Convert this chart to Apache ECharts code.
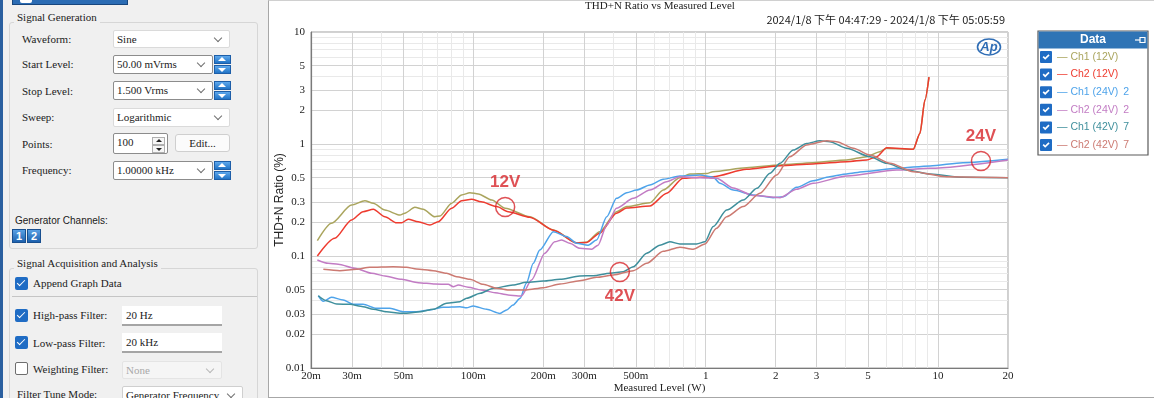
<!DOCTYPE html>
<html>
<head>
<meta charset="utf-8">
<script src="https://cdn.jsdelivr.net/npm/echarts@6/dist/echarts.min.js"></script>
<style>
body{margin:0;width:1154px;height:398px;overflow:hidden;background:#f0f0f0;position:relative;font-family:"Liberation Serif",serif;font-size:11px;color:#1b1b1b}
.a{position:absolute}
.lb{position:absolute;left:22px;line-height:14px;white-space:nowrap}
.grp{position:absolute;left:9px;width:249px;border:1px solid #d6d6d6;border-radius:3px;box-sizing:border-box}
.gt{position:absolute;left:14px;padding:0 3px;background:#f0f0f0;line-height:14px;white-space:nowrap}
.box{position:absolute;left:113px;background:#fff;border:1px solid #dadada;border-radius:2px;box-sizing:border-box;padding-left:3px;white-space:nowrap}
.dk{border-color:#8c8c8c}
.chev{position:absolute;right:8px;top:4px;width:5px;height:5px;border-right:1px solid #707070;border-bottom:1px solid #707070;transform:rotate(45deg)}
.sp{position:absolute;left:214px;width:17px;height:9px;background:linear-gradient(#5ea8ec,#2174c6);border:1px solid #1d5ea8;box-sizing:border-box}
.sp.u:after{content:'';position:absolute;left:3px;top:1px;border-left:4px solid transparent;border-right:4px solid transparent;border-bottom:4px solid #fff}
.sp.d:after{content:'';position:absolute;left:3px;top:2px;border-left:4px solid transparent;border-right:4px solid transparent;border-top:4px solid #fff}
.ps{position:absolute;left:152px;width:13px;height:8px;background:#f6f6f6;border:1px solid #b0b0b0;box-sizing:border-box}
.ps.u:after{content:'';position:absolute;left:3px;top:1px;border-left:3px solid transparent;border-right:3px solid transparent;border-bottom:3px solid #222}
.ps.d:after{content:'';position:absolute;left:3px;top:2px;border-left:3px solid transparent;border-right:3px solid transparent;border-top:3px solid #222}
.cb{position:absolute;top:229px;width:14px;height:14px;background:linear-gradient(#58a0e4,#1d61ae);border:1px solid #184f8f;box-sizing:border-box;color:#fff;font:bold 11px "Liberation Sans",sans-serif;text-align:center;line-height:12px}
.ck{position:absolute;left:15px;width:13px;height:13px;background:#1f6cc4;border-radius:2px}
.ck:after{content:'';position:absolute;left:4px;top:1px;width:3px;height:7px;border-right:1.5px solid #fff;border-bottom:1.5px solid #fff;transform:rotate(45deg)}
.ck0{position:absolute;left:15px;width:13px;height:13px;background:#fff;border:1px solid #6e6e6e;border-radius:2px;box-sizing:border-box}
.tb{position:absolute;left:122px;width:100px;background:#fff;border-bottom:2px solid #a5a5a5;box-sizing:border-box;padding-left:4px;line-height:18px}
#wrap{position:absolute;left:268px;top:0;width:886px;height:398px;background:#fff;border-left:1px solid #a7a7a7;border-top:1px solid #d0d0d0;border-bottom:1px solid #a7a7a7;box-sizing:border-box}
#main{position:absolute;left:0;top:0;width:885px;height:396px}
</style>
</head>
<body>
<div class="a" style="left:0;top:0;width:3px;height:398px;background:#2a5f9f"></div>
<div class="a" style="left:12px;top:-2px;width:116px;height:7px;background:#2b6cb4;border:1px solid #17467e;box-sizing:border-box"></div>
<div class="a" style="left:20px;top:0;width:12px;height:3px;background:#fff;border-radius:0 0 2px 2px"></div>

<div class="grp" style="top:22px;height:227px"></div>
<div class="gt" style="top:10px">Signal Generation</div>
<div class="lb" style="top:32px">Waveform:</div>
<div class="box" style="top:30px;width:117px;height:18px;line-height:16px">Sine<span class="chev"></span></div>
<div class="lb" style="top:57px">Start Level:</div>
<div class="box dk" style="top:55px;width:100px;height:19px;line-height:17px">50.00 mVrms<span class="chev"></span></div>
<div class="sp u" style="top:55px"></div><div class="sp d" style="top:65px"></div>
<div class="lb" style="top:84px">Stop Level:</div>
<div class="box dk" style="top:81px;width:100px;height:19px;line-height:17px">1.500 Vrms<span class="chev"></span></div>
<div class="sp u" style="top:81px"></div><div class="sp d" style="top:91px"></div>
<div class="lb" style="top:110px">Sweep:</div>
<div class="box" style="top:108px;width:117px;height:19px;line-height:17px">Logarithmic<span class="chev"></span></div>
<div class="lb" style="top:137px">Points:</div>
<div class="box dk" style="top:133px;width:55px;height:21px;line-height:17px">100</div>
<div class="ps u" style="top:137px"></div><div class="ps d" style="top:145px"></div>
<div class="a" style="left:175px;top:134px;width:55px;height:18px;border:1px solid #cfcfcf;border-radius:3px;background:#fbfbfb;box-sizing:border-box;text-align:center;line-height:16px">Edit...</div>
<div class="lb" style="top:163px">Frequency:</div>
<div class="box dk" style="top:161px;width:100px;height:19px;line-height:17px">1.00000 kHz<span class="chev"></span></div>
<div class="sp u" style="top:161px"></div><div class="sp d" style="top:171px"></div>
<div class="a" style="left:15px;top:214px;font:10px 'Liberation Sans',sans-serif;line-height:14px">Generator Channels:</div>
<div class="cb" style="left:12px">1</div><div class="cb" style="left:27px">2</div>

<div class="grp" style="top:268px;height:200px"></div>
<div class="gt" style="top:256px">Signal Acquisition and Analysis</div>
<div class="ck" style="top:277px"></div>
<div class="lb" style="left:33px;top:276px">Append Graph Data</div>
<div class="a" style="left:12px;top:296px;width:245px;height:1px;background:#c5c5c5"></div>
<div class="ck" style="top:309px"></div>
<div class="lb" style="left:33px;top:308px">High-pass Filter:</div>
<div class="tb" style="top:306px;height:20px">20 Hz</div>
<div class="ck" style="top:336px"></div>
<div class="lb" style="left:33px;top:336px">Low-pass Filter:</div>
<div class="tb" style="top:333px;height:20px">20 kHz</div>
<div class="ck0" style="top:362px"></div>
<div class="lb" style="left:33px;top:362px">Weighting Filter:</div>
<div class="box" style="left:122px;top:361px;width:100px;height:18px;line-height:16px;background:#f5f5f5;border-color:#e4e4e4;color:#a8a8a8">None<span class="chev" style="border-color:#b8b8b8"></span></div>
<div class="lb" style="left:17px;top:387px">Filter Tune Mode:</div>
<div class="box" style="left:122px;top:386px;width:121px;height:18px;line-height:16px;border-color:#cfcfcf">Generator Frequency<span class="chev"></span></div>

<div id="wrap"><div id="main"></div></div>

<script>
// THD+N ratio (%) against measured level (W)
var ch1_12V = [[0.0213,0.137],[0.0245,0.196],[0.0299,0.285],[0.0341,0.312],[0.0371,0.296],[0.0416,0.257],[0.0483,0.232],[0.0507,0.241],[0.056,0.272],[0.0608,0.261],[0.0683,0.224],[0.0718,0.228],[0.0806,0.296],[0.089,0.351],[0.0966,0.367],[0.105,0.358],[0.12,0.316],[0.137,0.267],[0.175,0.224],[0.221,0.171],[0.278,0.131],[0.307,0.133],[0.35,0.165],[0.413,0.249],[0.457,0.276],[0.575,0.299],[0.656,0.388],[0.774,0.5],[0.855,0.54],[1.01,0.545],[1.074,0.566],[1.5,0.614],[2.09,0.65],[2.89,0.681],[4.04,0.72],[4.93,0.77],[5.62,0.854],[6.01,0.916],[7.82,0.897],[8.36,1.25],[8.78,2.47],[9.14,3.96]];
var ch2_12V = [[0.0213,0.1],[0.0253,0.144],[0.0299,0.21],[0.0335,0.249],[0.0371,0.261],[0.0416,0.224],[0.0467,0.198],[0.0491,0.198],[0.0524,0.213],[0.0579,0.202],[0.065,0.189],[0.0705,0.202],[0.0806,0.267],[0.089,0.312],[0.0982,0.321],[0.108,0.305],[0.126,0.276],[0.141,0.249],[0.175,0.222],[0.221,0.17],[0.278,0.131],[0.307,0.132],[0.35,0.16],[0.413,0.241],[0.457,0.268],[0.575,0.28],[0.679,0.363],[0.798,0.494],[0.944,0.505],[1.076,0.51],[1.5,0.594],[2.09,0.64],[2.89,0.663],[4.04,0.695],[4.93,0.72],[5.44,0.77],[6.01,0.927],[7.82,0.897],[8.36,1.25],[8.78,2.47],[9.14,3.96]];
var ch1_24V = [[0.0215,0.0442],[0.0226,0.0394],[0.0245,0.0428],[0.0275,0.0405],[0.0304,0.037],[0.0335,0.037],[0.0383,0.0341],[0.0437,0.0341],[0.0499,0.0318],[0.0569,0.0318],[0.065,0.033],[0.0741,0.0348],[0.0875,0.0353],[0.0935,0.0345],[0.0998,0.0358],[0.114,0.0334],[0.13,0.0307],[0.139,0.033],[0.148,0.0365],[0.159,0.0419],[0.169,0.057],[0.181,0.086],[0.193,0.113],[0.221,0.165],[0.252,0.149],[0.278,0.13],[0.312,0.125],[0.339,0.139],[0.375,0.224],[0.413,0.327],[0.457,0.367],[0.504,0.388],[0.575,0.431],[0.656,0.484],[0.774,0.518],[0.944,0.529],[1.077,0.505],[1.151,0.446],[1.313,0.388],[1.6,0.351],[1.95,0.332],[2.16,0.338],[2.46,0.41],[2.9,0.47],[3.42,0.511],[4.04,0.54],[4.76,0.566],[6.63,0.607],[9.23,0.637],[12.8,0.681],[20,0.73]];
var ch2_24V = [[0.0213,0.092],[0.0237,0.086],[0.0262,0.0843],[0.0309,0.0777],[0.0365,0.0701],[0.0416,0.0663],[0.0491,0.0619],[0.0579,0.0578],[0.0683,0.0562],[0.0779,0.0559],[0.0819,0.0532],[0.0861,0.0551],[0.095,0.0526],[0.108,0.0497],[0.124,0.047],[0.141,0.0449],[0.156,0.044],[0.161,0.044],[0.178,0.061],[0.203,0.106],[0.224,0.134],[0.24,0.139],[0.26,0.13],[0.287,0.117],[0.323,0.115],[0.344,0.125],[0.375,0.189],[0.413,0.267],[0.488,0.327],[0.575,0.388],[0.679,0.461],[0.774,0.511],[0.944,0.5],[1.114,0.494],[1.313,0.405],[1.6,0.347],[2.09,0.332],[2.46,0.394],[2.9,0.446],[4.04,0.518],[6.63,0.586],[9.23,0.607],[20,0.72]];
var ch1_42V = [[0.0215,0.0442],[0.0233,0.0399],[0.0258,0.0373],[0.0294,0.037],[0.0335,0.0353],[0.0371,0.0334],[0.0423,0.0318],[0.0483,0.0308],[0.0516,0.0308],[0.0588,0.0318],[0.0671,0.0334],[0.0767,0.0378],[0.0875,0.0391],[0.0935,0.0419],[0.107,0.0465],[0.122,0.0515],[0.148,0.0551],[0.169,0.0582],[0.2,0.0598],[0.236,0.0619],[0.287,0.0663],[0.328,0.0667],[0.387,0.0701],[0.441,0.0724],[0.488,0.0802],[0.557,0.106],[0.635,0.125],[0.701,0.134],[0.774,0.128],[0.914,0.128],[0.992,0.134],[1.077,0.183],[1.23,0.257],[1.45,0.316],[1.66,0.402],[1.89,0.548],[2.09,0.673],[2.38,0.884],[2.72,1.01],[3.1,1.07],[3.42,1.05],[4.04,0.916],[5.09,0.77],[6.01,0.673],[7.33,0.586],[9.23,0.54],[12.8,0.504],[20,0.5]];
var ch2_42V = [[0.0226,0.076],[0.0266,0.074],[0.0314,0.076],[0.0358,0.0793],[0.0451,0.0803],[0.0516,0.0793],[0.0569,0.0766],[0.0671,0.074],[0.0767,0.0701],[0.0847,0.0654],[0.0966,0.0619],[0.11,0.0559],[0.126,0.0515],[0.144,0.0497],[0.169,0.0497],[0.2,0.0521],[0.236,0.0562],[0.287,0.0602],[0.339,0.0645],[0.4,0.0677],[0.488,0.074],[0.557,0.086],[0.656,0.11],[0.774,0.12],[0.883,0.115],[0.992,0.128],[1.114,0.177],[1.23,0.224],[1.45,0.276],[1.71,0.363],[2.02,0.529],[2.3,0.77],[2.72,0.98],[3.32,1.07],[3.66,1.05],[4.32,0.916],[5.09,0.796],[6.21,0.673],[7.82,0.566],[10.9,0.511],[20,0.5]];

var seriesNames = ['Ch1 (12V)', 'Ch2 (12V)', 'Ch1 (24V)', 'Ch2 (24V)', 'Ch1 (42V)', 'Ch2 (42V)'];
var legendSuffix = ['', '', '2', '2', '7', '7'];

var xTickValues = [0.02, 0.03, 0.05, 0.1, 0.2, 0.3, 0.5, 1, 2, 3, 5, 10, 20];
var xTickLabels = ['20m', '30m', '50m', '100m', '200m', '300m', '500m', '1', '2', '3', '5', '10', '20'];
var yTickValues = [0.01, 0.02, 0.03, 0.05, 0.1, 0.2, 0.3, 0.5, 1, 2, 3, 5, 10];
var yTickLabels = ['0.01', '0.02', '0.03', '0.05', '0.1', '0.2', '0.3', '0.5', '1', '2', '3', '5', '10'];

// red circled callouts
var markerPoints = [[0.137, 0.274], [0.427, 0.072], [15.3, 0.705]];
var markerNames = ['12V', '42V', '24V'];
var markerLabelPos = ['top', 'bottom', 'top'];

var lineColors = ['#aaa55e', '#ee3b2f', '#4ea3ea', '#c27cc4', '#3f8f9c', '#cc7a72'];
var serif = 'Liberation Serif';
var sans = 'Liberation Sans';

function sameVal(a, b) { return Math.abs(Math.log(a) - Math.log(b)) < 1e-6; }
function tickText(vals, labels) {
    return function (v) {
        for (var i = 0; i < vals.length; i++) { if (sameVal(v, vals[i])) return labels[i]; }
        return '';
    };
}
// grid lines at every 1..9 multiple of each decade, labelled ones a bit darker
function gridValues(min, max) {
    var out = [];
    for (var d = Math.floor(Math.log10(min)); d <= Math.ceil(Math.log10(max)); d++) {
        for (var k = 1; k < 10; k++) {
            var v = k * Math.pow(10, d);
            if (v >= min * 0.999 && v <= max * 1.001) out.push(+v.toPrecision(6));
        }
    }
    return out;
}
function gridColors(vals, labelled) {
    return vals.map(function (v) {
        return labelled.some(function (t) { return sameVal(t, v); }) ? '#d2d2d2' : '#e9e9e9';
    });
}
var xGrid = gridValues(0.02, 20);
var yGrid = gridValues(0.01, 10);

var checkIcon = 'path://M1,0H11Q12,0 12,1V11Q12,12 11,12H1Q0,12 0,11V1Q0,0 1,0Z M2.6,6.2L5.2,8.8L9.6,4.4L8.4,3.2L5.2,6.4L3.8,5Z';

var myChart = echarts.init(document.getElementById('main'));

var series = seriesNames.map(function (n, i) {
    return {
        name: n,
        type: 'line',
        data: [ch1_12V, ch2_12V, ch1_24V, ch2_24V, ch1_42V, ch2_42V][i],
        symbol: 'none',
        smooth: 0.25,
        smoothMonotone: 'x',
        lineStyle: { width: 1.5, color: lineColors[i] },
        itemStyle: { color: lineColors[i] }
    };
});
series.push({
    name: 'markers',
    type: 'scatter',
    symbol: 'circle',
    symbolSize: 19,
    z: 5,
    itemStyle: { color: 'rgba(0,0,0,0)', borderColor: '#d7262b', borderWidth: 1.5 },
    label: { show: true, formatter: '{b}', distance: 6, color: '#d7262b', fontFamily: sans, fontWeight: 'bold', fontSize: 17 },
    data: markerPoints.map(function (p, i) {
        return { name: markerNames[i], value: p, label: { position: markerLabelPos[i] } };
    })
});

var option = {
    animation: false,
    title: [
        { text: 'THD+N Ratio vs Measured Level', left: 391, top: 0, padding: 0, textAlign: 'center',
          textStyle: { fontFamily: serif, fontSize: 11, fontWeight: 'normal', color: '#222' } },
        { text: '2024/1/8 下午 04:47:29 - 2024/1/8 下午 05:05:59', right: 149, top: 13, padding: 0,
          textStyle: { fontFamily: 'Noto Sans CJK TC', fontSize: 11, fontWeight: 'normal', color: '#222' } }
    ],
    grid: { left: 42, right: 146, top: 31, bottom: 29, containLabel: false, outerBoundsMode: 'none',
            show: true, borderColor: '#a0a0a0', borderWidth: 1 },
    legend: {
        orient: 'vertical',
        left: 771, top: 49,
        padding: 0,
        itemWidth: 12, itemHeight: 12, itemGap: 3.6,
        selectedMode: false,
        textStyle: {
            fontFamily: sans, fontSize: 10.5, lineHeight: 14,
            rich: {
                s2: { color: lineColors[2], fontFamily: sans, fontSize: 10.5, padding: [0, 0, 0, 5] },
                s3: { color: lineColors[3], fontFamily: sans, fontSize: 10.5, padding: [0, 0, 0, 5] },
                s4: { color: lineColors[4], fontFamily: sans, fontSize: 10.5, padding: [0, 0, 0, 5] },
                s5: { color: lineColors[5], fontFamily: sans, fontSize: 10.5, padding: [0, 0, 0, 5] }
            }
        },
        formatter: function (name) {
            var i = seriesNames.indexOf(name);
            return '— ' + name + (legendSuffix[i] ? '{s' + i + '|' + legendSuffix[i] + '}' : '');
        },
        data: seriesNames.map(function (n, i) {
            return { name: n, icon: checkIcon, itemStyle: { color: '#1f6cc4', borderWidth: 0 }, textStyle: { color: lineColors[i] } };
        })
    },
    xAxis: {
        type: 'log', logBase: 10, min: 0.02, max: 20,
        name: 'Measured Level (W)', nameLocation: 'middle', nameGap: 15, nameMoveOverlap: false,
        nameTextStyle: { fontFamily: serif, fontSize: 11, color: '#222' },
        axisLine: { lineStyle: { color: '#7a7a7a', width: 1.2 } },
        axisTick: { show: false, customValues: xGrid },
        axisLabel: { customValues: xTickValues, formatter: tickText(xTickValues, xTickLabels), margin: 3,
                     fontFamily: serif, fontSize: 11, color: '#222' },
        splitLine: { show: true, lineStyle: { color: gridColors(xGrid, xTickValues), width: 1 } }
    },
    yAxis: {
        type: 'log', logBase: 10, min: 0.01, max: 10,
        name: 'THD+N Ratio (%)', nameLocation: 'middle', nameGap: 25, nameMoveOverlap: false,
        nameTextStyle: { fontFamily: sans, fontSize: 12, color: '#222' },
        axisLine: { show: true, lineStyle: { color: '#7a7a7a', width: 1.2 } },
        axisTick: { show: false, customValues: yGrid },
        axisLabel: { customValues: yTickValues, formatter: tickText(yTickValues, yTickLabels), margin: 6,
                     fontFamily: serif, fontSize: 11, color: '#222' },
        splitLine: { show: true, lineStyle: { color: gridColors(yGrid, yTickValues), width: 1 } }
    },
    graphic: [
        { type: 'rect', z: 1, shape: { x: 769, y: 30, width: 110, height: 124 }, style: { fill: '#fff', stroke: '#5a5a5a', lineWidth: 1.2 } },
        { type: 'rect', z: 2, shape: { x: 769.6, y: 30.6, width: 108.8, height: 17 }, style: { fill: '#2f74b5' } },
        { type: 'text', z: 3, x: 824, y: 39, style: { text: 'Data', fill: '#fff', font: 'bold 12px "Liberation Sans"', align: 'center', verticalAlign: 'middle' } },
        { type: 'line', z: 3, shape: { x1: 866, y1: 39, x2: 871, y2: 39 }, style: { stroke: '#fff', lineWidth: 1.2 } },
        { type: 'rect', z: 3, shape: { x: 871, y: 36.5, width: 5, height: 5 }, style: { fill: 'none', stroke: '#fff', lineWidth: 1.2 } },
        { type: 'ellipse', z: 3, shape: { cx: 720, cy: 46, rx: 11.5, ry: 8 }, style: { fill: 'none', stroke: '#2f6db5', lineWidth: 1.6 } },
        { type: 'text', z: 3, x: 720, y: 46, style: { text: 'Ap', fill: '#2f6db5', font: 'italic bold 13px "Liberation Sans"', align: 'center', verticalAlign: 'middle' } }
    ],
    series: series
};

myChart.setOption(option);
</script>
</body>
</html>
